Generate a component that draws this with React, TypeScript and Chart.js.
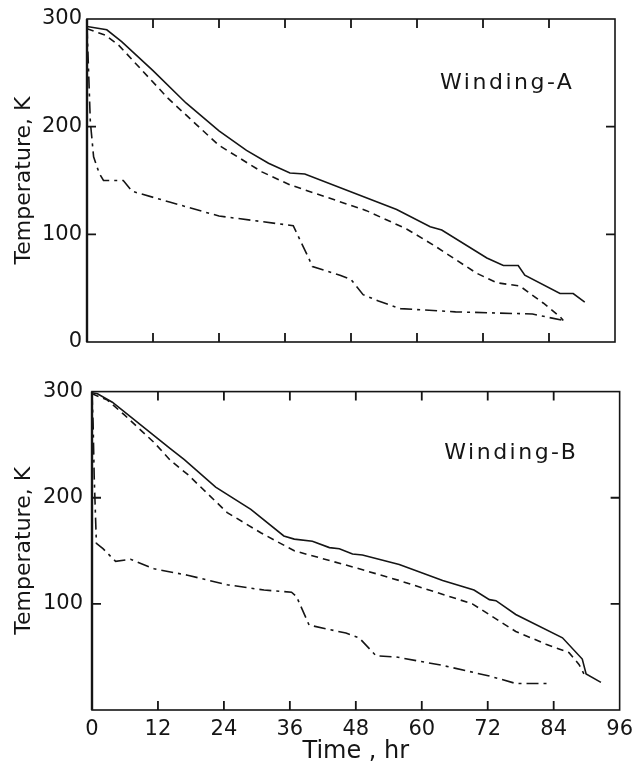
import React, { useEffect, useRef } from 'react';
import { Chart, registerables } from 'chart.js';

Chart.register(...registerables);

// ---- axis ticks ----
const xTickValues = [0, 12, 24, 36, 48, 60, 72, 84, 96];
const yTickValuesTop = [0, 100, 200, 300];
const yTickValuesBottom = [100, 200, 300];
const innerTickValuesY = [100, 200];

// ---- Winding-A ----
const aSolidHr = [0, 3.6, 6.3, 12, 18, 24, 29, 33, 36.9, 39.6, 56.3, 62.4, 64.5, 72.7, 75.7, 78.4, 79.6, 86, 88.4, 90.5];
const aSolidK = [293, 290, 279, 252, 222, 196, 178, 166, 157, 156, 123, 107, 104, 78, 71, 71, 62, 45, 45, 37];

const aDashHr = [0, 3.3, 5.7, 14.8, 23.9, 31.8, 36.9, 50.8, 58.1, 63, 70.8, 74.5, 78.7, 83, 86, 86.6];
const aDashK = [291, 285, 276, 226, 183, 158, 146, 122, 105, 90, 64, 55, 52, 36, 23.5, 20];

const aDotHr = [0, 0.3, 0.6, 1.2, 2.2, 3, 6.6, 8.2, 15, 24, 30, 37.5, 40.2, 41, 46, 48, 50.2, 53, 57, 67, 81, 86.6];
const aDotK = [293, 250, 205, 172, 157, 150, 150, 140, 130, 117, 113, 108, 79, 70, 62, 58, 44, 38, 31, 28, 26, 20];

// ---- Winding-B ----
const bSolidHr = [0, 1, 3.7, 14.3, 16.8, 22.5, 28.9, 34.9, 36.8, 40.1, 43.2, 45, 47.4, 49.2, 55.9, 63.8, 69.5, 72.3, 73.5, 77.1, 85.6, 89.2, 89.9, 92.6];
const bSolidK = [299, 298, 290, 246, 236, 210, 189, 164, 161, 159, 153, 152, 147, 146, 137, 122, 113, 104, 103, 90, 68, 48, 34, 26];

const bDashHr = [0, 2.8, 5.9, 11.3, 14.3, 17.4, 24.6, 30.7, 36.8, 48, 55.9, 64.4, 69.2, 77.1, 82.6, 86.8, 88.6, 89.5];
const bDashK = [298, 292, 278, 252, 235, 222, 186, 167, 150, 134, 122, 108, 100, 74, 62, 54, 43, 34];

const bDotHr = [0, 0.2, 0.4, 0.8, 2, 4.3, 7, 11.3, 17.4, 24.6, 31.3, 36.3, 37.2, 39.5, 46.2, 48.6, 51.7, 55.3, 63.8, 72.3, 77.1, 83.2];
const bDotK = [299, 270, 220, 157, 152, 140, 142, 133, 127, 118, 113, 111, 107, 80, 72.5, 68, 51, 50, 42, 32, 25, 25];

const FONT = 'DejaVu Sans';
const INK = '#151515';

const zip = (xs: number[], ys: number[]) => xs.map((x, i) => ({ x, y: ys[i] }));

const lineDs = (label: string, xs: number[], ys: number[], dash: number[]) => ({
  label,
  data: zip(xs, ys),
  borderColor: INK,
  borderWidth: 1.6,
  borderDash: dash,
  pointRadius: 0,
  tension: 0,
  fill: false,
});

type PanelCfg = {
  label: string;
  labelX: number;
  labelY: number;
  datasets: any[];
  yTicks: number[];
  showX: boolean;
  width: number;
  height: number;
  top: number;
  yWidth: number;
  xHeight: number;
  padTop: number;
  padRight: number;
  yPad: number;
};

function makeFramePlugin(cfg: PanelCfg) {
  return {
    id: 'frame' + cfg.label,
    afterDraw(chart: any) {
      const ctx: CanvasRenderingContext2D = chart.ctx;
      const { left, right, top, bottom } = chart.chartArea;
      const xs = chart.scales.x;
      const ys = chart.scales.y;
      ctx.save();
      ctx.setLineDash([]);
      ctx.strokeStyle = INK;
      ctx.lineWidth = 1.6;
      ctx.strokeRect(left, top, right - left, bottom - top);
      ctx.lineWidth = 2.4;
      ctx.beginPath();
      ctx.moveTo(left, top);
      ctx.lineTo(left, bottom);
      ctx.stroke();
      const tl = 9;
      ctx.lineWidth = 1.8;
      xTickValues.slice(1, -1).forEach((v) => {
        const px = xs.getPixelForValue(v);
        ctx.beginPath();
        ctx.moveTo(px, bottom);
        ctx.lineTo(px, bottom - tl);
        ctx.moveTo(px, top);
        ctx.lineTo(px, top + tl);
        ctx.stroke();
      });
      innerTickValuesY.forEach((v) => {
        const py = ys.getPixelForValue(v);
        ctx.beginPath();
        ctx.moveTo(left, py);
        ctx.lineTo(left + tl, py);
        ctx.moveTo(right, py);
        ctx.lineTo(right - tl, py);
        ctx.stroke();
      });
      ctx.fillStyle = INK;
      ctx.font = `22px "${FONT}"`;
      ctx.textAlign = 'left';
      ctx.textBaseline = 'middle';
      (ctx as any).letterSpacing = '2.5px';
      ctx.fillText(cfg.label, xs.getPixelForValue(cfg.labelX), ys.getPixelForValue(cfg.labelY));
      (ctx as any).letterSpacing = '0px';
      ctx.restore();
    },
  };
}

function Panel({ cfg }: { cfg: PanelCfg }) {
  const ref = useRef<HTMLCanvasElement | null>(null);
  useEffect(() => {
    if (!ref.current) return;
    const chart = new Chart(ref.current, {
      type: 'line',
      data: { datasets: cfg.datasets },
      plugins: [makeFramePlugin(cfg)],
      options: {
        animation: false,
        responsive: false,
        maintainAspectRatio: false,
        layout: { padding: { top: cfg.padTop, right: cfg.padRight, left: 0, bottom: 0 } },
        plugins: {
          legend: { display: false },
          tooltip: { enabled: false },
        },
        scales: {
          x: {
            type: 'linear',
            min: 0,
            max: 96,
            afterBuildTicks: (s: any) => { s.ticks = xTickValues.map((v) => ({ value: v })); },
            afterFit: (s: any) => { s.height = cfg.xHeight; },
            grid: { display: false, drawTicks: false },
            border: { display: false },
            ticks: {
              display: cfg.showX,
              padding: 7,
              color: INK,
              font: { family: FONT, size: 21 },
              maxRotation: 0,
              autoSkip: false,
            },
            title: {
              display: cfg.showX,
              text: 'Time , hr',
              color: INK,
              font: { family: FONT, size: 24 },
              padding: { top: 0, bottom: 1 },
            },
          },
          y: {
            type: 'linear',
            min: 0,
            max: 300,
            afterBuildTicks: (s: any) => { s.ticks = cfg.yTicks.map((v) => ({ value: v })); },
            afterFit: (s: any) => { s.width = cfg.yWidth; },
            grid: { display: false, drawTicks: false },
            border: { display: false },
            ticks: {
              padding: cfg.yPad,
              color: INK,
              font: { family: FONT, size: 21 },
              autoSkip: false,
            },
            title: {
              display: true,
              text: 'Temperature, K',
              color: INK,
              font: { family: FONT, size: 22 },
              padding: { top: 11, bottom: 0 },
            },
          },
        },
      } as any,
    });
    return () => chart.destroy();
  }, [cfg]);
  return (
    <canvas
      ref={ref}
      width={cfg.width}
      height={cfg.height}
      style={{ position: 'absolute', left: 0, top: cfg.top, width: cfg.width, height: cfg.height }}
    />
  );
}

const topCfg: PanelCfg = {
  label: 'Winding-A',
  labelX: 64.2,
  labelY: 240,
  datasets: [
    lineDs('A solid', aSolidHr, aSolidK, []),
    lineDs('A dashed', aDashHr, aDashK, [7, 5]),
    lineDs('A dash-dot', aDotHr, aDotK, [12, 5, 3, 5]),
  ],
  yTicks: yTickValuesTop,
  showX: false,
  width: 640,
  height: 370,
  top: 0,
  yWidth: 87,
  xHeight: 28,
  padTop: 19,
  padRight: 25,
  yPad: 5,
};

const bottomCfg: PanelCfg = {
  label: 'Winding-B',
  labelX: 64.1,
  labelY: 242,
  datasets: [
    lineDs('B solid', bSolidHr, bSolidK, []),
    lineDs('B dashed', bDashHr, bDashK, [7, 5]),
    lineDs('B dash-dot', bDotHr, bDotK, [12, 5, 3, 5]),
  ],
  yTicks: yTickValuesBottom,
  showX: true,
  width: 640,
  height: 397,
  top: 370,
  yWidth: 92,
  xHeight: 57,
  padTop: 17,
  padRight: 20,
  yPad: 9,
};

export default function App() {
  return (
    <div style={{ position: 'absolute', left: 0, top: 0, width: 640, height: 767, background: '#fff' }}>
      <Panel cfg={topCfg} />
      <Panel cfg={bottomCfg} />
    </div>
  );
}
